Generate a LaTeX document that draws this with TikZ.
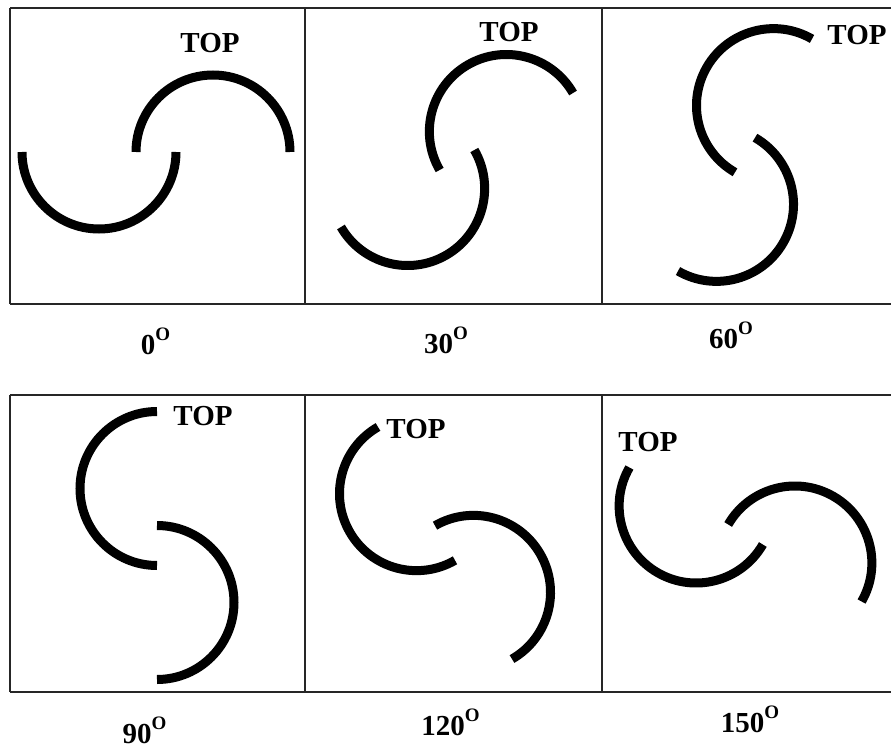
\documentclass[tikz,border=0pt]{standalone}
\usepackage{fontspec}
\setmainfont{Liberation Serif}
\tikzset{
  frameline/.style={line width=1.8pt, black!85},
  divider/.style={line width=1.1pt, black!85},
  blade/.style={line width=9pt, line cap=butt},
  toplabel/.style={font=\fontsize{29}{29}\selectfont\bfseries, inner sep=0pt, anchor=base},
  anglabel/.style={font=\fontsize{29}{29}\selectfont\bfseries, inner sep=0pt, anchor=base},
}
\newcommand{\supO}{\raisebox{14pt}{\fontsize{19}{19}\selectfont\bfseries O}}
\newcommand{\rotorpic}[3]{%
  \begin{scope}[shift={(#1,-#2)}, rotate=#3]
    \draw[blade] (134,0) arc[start angle=0, end angle=180, radius=77];
    \draw[blade] (-134,0) arc[start angle=180, end angle=360, radius=77];
  \end{scope}}
\begin{document}
\begin{tikzpicture}[x=1pt,y=1pt]
\useasboundingbox (0,0) rectangle (891,-751);
\fill[white] (0,0) rectangle (891,-751);
% top row frame
\draw[frameline] (10,-8) -- (891,-8);
\draw[frameline] (10,-304) -- (891,-304);
\draw[divider] (10,-8) -- (10,-304);
\draw[divider] (305,-8) -- (305,-304);
\draw[divider] (602,-8) -- (602,-304);
% bottom row frame
\draw[frameline] (10,-395) -- (891,-395);
\draw[frameline] (10,-692) -- (891,-692);
\draw[divider] (10,-395) -- (10,-692);
\draw[divider] (305,-395) -- (305,-692);
\draw[divider] (602,-395) -- (602,-692);
% rotors
\rotorpic{156}{152}{0}
\rotorpic{457}{160}{30}
\rotorpic{745}{155}{60}
\rotorpic{157}{545.5}{90}
\rotorpic{445}{543}{120}
\rotorpic{745.5}{534.5}{150}
% TOP labels
\node[toplabel] (top0) at (210,-53) {TOP};
\node[toplabel] (top30) at (509,-42) {TOP};
\node[toplabel] (top60) at (857,-45) {TOP};
\node[toplabel] (top90) at (203,-425) {TOP};
\node[toplabel] (top120) at (416,-438) {TOP};
\node[toplabel] (top150) at (648,-451) {TOP};
% angle labels
\node[anglabel] (a0) at (155.5,-354) {0\supO};
\node[anglabel] (a30) at (446,-353) {30\supO};
\node[anglabel] (a60) at (731,-348) {60\supO};
\node[anglabel] (a90) at (144.5,-743) {90\supO};
\node[anglabel] (a120) at (450.5,-735) {120\supO};
\node[anglabel] (a150) at (750,-732) {150\supO};
\end{tikzpicture}
\end{document}
